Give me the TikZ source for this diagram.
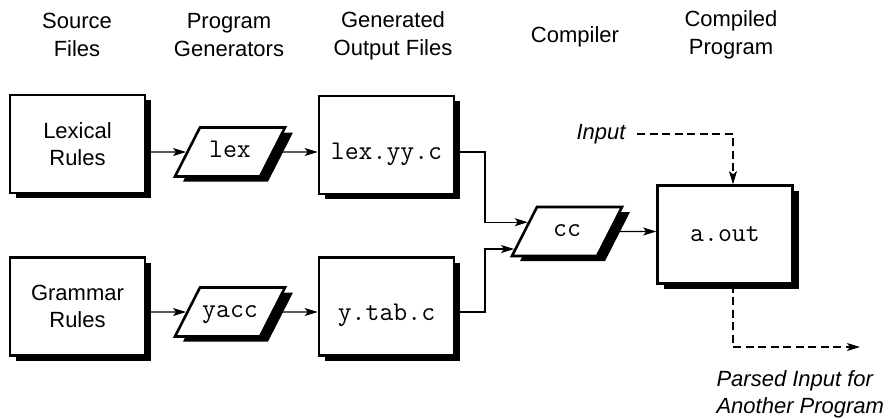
\documentclass[tikz,border=0pt]{standalone}
\usepackage{fontspec}
\setmainfont{Liberation Sans}
\usetikzlibrary{shapes.geometric,shadows,arrows.meta,calc}
\begin{document}
\begin{tikzpicture}
[x=1pt,y=-1pt,
 headdecorate/.style={align=center,font=\fontsize{22}{28}\selectfont},
 boxdecorate/.style={shape=rectangle,draw,line width=2.6pt,fill=white,%
   minimum width=135pt,minimum height=98pt,align=center,%
   font=\fontsize{22}{27}\selectfont,%
   general shadow={fill=black,shadow xshift=6pt,shadow yshift=-5pt}},
 filedecorate/.style={boxdecorate,font=\fontsize{27}{28}\ttfamily,%
   text height=34pt,text depth=6pt},
 progdecorate/.style={shape=trapezium,trapezium left angle=63,%
   trapezium right angle=117,trapezium stretches body,draw,%
   line width=2.6pt,fill=white,minimum width=110pt,%
   text height=15pt,text depth=5pt,inner ysep=14.5pt,inner xsep=0pt,%
   font=\fontsize{27}{28}\ttfamily,%
   general shadow={fill=black,shadow xshift=8pt,shadow yshift=-5pt}},
 linedecorate/.style={-{Stealth[length=13pt,width=8pt,inset=3pt]},line width=1.1pt},
 dashdecorate/.style={linedecorate,dash pattern=on 8pt off 4.5pt},
 notedecorate/.style={font=\fontsize{22}{27}\selectfont\itshape,align=left}]
\useasboundingbox (0,0) rectangle (892,418);
%% column heads
\foreach \nodename/\x/\y/\txt in {source/77/35/{Source\\Files},
  generators/229/35/{Program\\Generators}, outputs/393/36/{Generated\\Output Files},
  compiler/575/37/{Compiler}, compiled/731/35/{Compiled\\Program}} {
  \node (\nodename) at (\x,\y) [headdecorate] {\txt};
}
%% boxes
\foreach \nodename/\x/\y/\txt in {lexical/77.5/144/{Lexical\\Rules},
  grammar/77.5/306.5/{Grammar\\Rules}} {
  \node (\nodename) at (\x,\y) [boxdecorate] {\txt};
}
\foreach \nodename/\x/\y/\txt in {lexyyc/386.5/145/lex.yy.c, ytabc/386.5/306.5/y.tab.c} {
  \node (\nodename) at (\x,\y) [filedecorate] {\txt};
}
\node (aout) at (725,234.5) [boxdecorate,font=\fontsize{27}{28}\ttfamily] {a.out};
%% programs
\foreach \nodename/\x/\y in {lex/230/152, yacc/230/312, cc/567/231.5} {
  \node (\nodename) at (\x,\y) [progdecorate] {\nodename};
}
%% notes
\node (input) at (601,134) [notedecorate] {Input};
\node (parsed) at (713,394) [notedecorate,anchor=west] {Parsed Input for\\Another Program};
\coordinate (bus) at (485,231.5);
\coordinate (upin) at ($(cc.bottom left corner)!0.68!(cc.top left corner)$);
\coordinate (lowin) at ($(cc.bottom left corner)!0.16!(cc.top left corner)$);
\coordinate (outend) at (860,347);
%% arrows
\foreach \startnode/\endnode in {lexical/lex, grammar/yacc} {
  \draw[linedecorate] (\startnode.east |- \endnode) -- (\endnode);
}
\foreach \startnode/\endnode in {lex/lexyyc, yacc/ytabc, cc/aout} {
  \draw[linedecorate] (\startnode) -- (\startnode -| \endnode.west);
}
\draw[linedecorate] (lexyyc.east |- lex) -| (bus |- upin) -- (upin);
\draw[linedecorate] (ytabc.east |- yacc) -| (bus |- lowin) -- (lowin);
\draw[dashdecorate] ([xshift=8pt]input.east) -| ([xshift=8pt]aout.north);
\draw[dashdecorate] ([xshift=8pt]aout.south) |- (outend);
\end{tikzpicture}
\end{document}
